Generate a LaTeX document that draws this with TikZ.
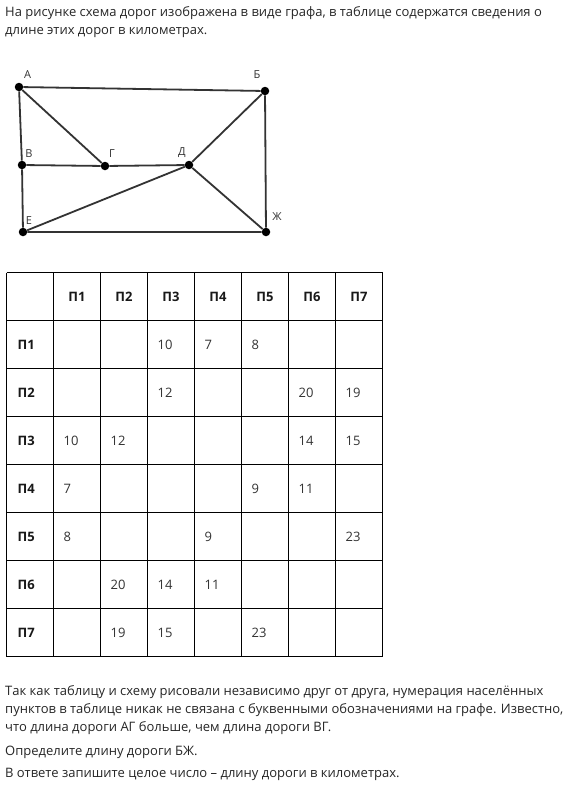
\documentclass[tikz,border=0pt]{standalone}
\usepackage{fontspec}
\setmainfont{Open Sans}
\begin{document}
\begin{tikzpicture}[x=1pt,y=-1pt,
  txt/.style={anchor=base west,inner sep=0pt,font=\fontsize{13}{18}\selectfont,text=black!85},
  road/.style={line width=1.8pt,draw=black!80},
  town/.style={circle,fill=black,inner sep=0pt,minimum size=8.5pt},
  lbl/.style={inner sep=0pt,font=\fontsize{11}{13}\selectfont,text=black!80},
  grid/.style={line width=1.2pt,draw=black},
  hd/.style={inner sep=0pt,font=\fontsize{13}{16}\selectfont\bfseries,text=black!90},
  cell/.style={anchor=west,inner sep=0pt,font=\fontsize{13}{16}\selectfont,text=black!80}]
\useasboundingbox (0,0) rectangle (579,787);
\fill[white] (0,0) rectangle (579,787);
% intro text
\node[txt] (t1) at (5,16.5) {На рисунке схема дорог изображена в виде графа, в таблице содержатся сведения о};
\node[txt] (t2) at (5,34.5) {длине этих дорог в километрах.};
% graph
\node[town] (A) at (19,87) {};
\node[town] (B) at (265,91) {};
\node[town] (V) at (22,165) {};
\node[town] (G) at (105,166) {};
\node[town] (D) at (189,165) {};
\node[town] (E) at (23,232) {};
\node[town] (Zh) at (266,232) {};
\draw[road] (A) -- (B) -- (Zh) -- (E) -- (V) -- (A) -- (G) -- (V);
\draw[road] (G) -- (D) -- (B);
\draw[road] (D) -- (Zh);
\draw[road] (D) -- (E);
\node[lbl] (lA) at (27.5,75) {А};
\node[lbl] (lB) at (257,75) {Б};
\node[lbl] (lV) at (29,154) {В};
\node[lbl] (lG) at (112,154) {Г};
\node[lbl] (lD) at (182,153) {Д};
\node[lbl] (lE) at (29,221) {Е};
\node[lbl] (lZh) at (277,217) {Ж};
% table grid
\foreach \i in {0,...,8} {
  \draw[grid] (6.5+47*\i,272.5) -- (6.5+47*\i,656.5);
  \draw[grid] (6.5,272.5+48*\i) -- (382.5,272.5+48*\i);
}
% headers
\foreach \j in {1,...,7} {
  \node[hd] (h\j) at (6.5+47*\j+23.5,296.5) {П\j};
  \node[hd,anchor=west] (r\j) at (17.5,296.5+48*\j) {П\j};
}
% data
\foreach \r/\c/\v in {1/3/10,1/4/7,1/5/8,
  2/3/12,2/6/20,2/7/19,
  3/1/10,3/2/12,3/6/14,3/7/15,
  4/1/7,4/5/9,4/6/11,
  5/1/8,5/4/9,5/7/23,
  6/2/20,6/3/14,6/4/11,
  7/2/19,7/3/15,7/5/23} {
  \node[cell] (d\r\c) at (6.5+47*\c+10,296.5+48*\r) {\v};
}
% bottom text
\node[txt] (b1) at (5,695) {Так как таблицу и схему рисовали независимо друг от друга, нумерация населённых};
\node[txt] (b2) at (5,713.5) {пунктов в таблице никак не связана с буквенными обозначениями на графе. Известно,};
\node[txt] (b3) at (5,731.5) {что длина дороги АГ больше, чем длина дороги ВГ.};
\node[txt] (b4) at (5,755) {Определите длину дороги БЖ.};
\node[txt] (b5) at (5,777.5) {В ответе запишите целое число – длину дороги в километрах.};
\end{tikzpicture}
\end{document}
